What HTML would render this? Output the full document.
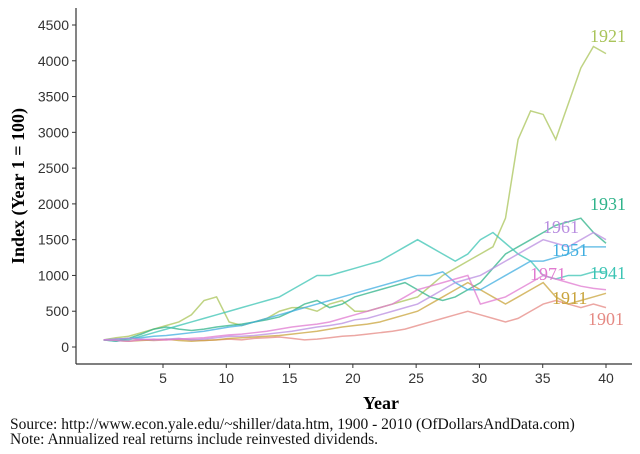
<!DOCTYPE html>
<html><head><meta charset="utf-8"><style>
body{margin:0;background:#fff}
svg{display:block}
.tk{font-family:"Liberation Sans",sans-serif;font-size:14px;fill:#333}
.lb{font-family:"Liberation Serif",serif;font-size:18px}
.ft{font-family:"Liberation Serif",serif;font-size:15.5px;fill:#111}
</style></head><body>
<svg id="chart" width="640" height="454">
<g id="grid"></g><g id="lines"></g><g id="labels"></g>
<text class="ft" x="10" y="429">Source:  http://www.econ.yale.edu/~shiller/data.htm, 1900 - 2010 (OfDollarsAndData.com)</text>
<text class="ft" x="10" y="444">Note:  Annualized real returns include reinvested dividends.</text>
<text x="363" y="409" style="font-family:'Liberation Serif',serif;font-weight:bold;font-size:18px">Year</text>
<text transform="translate(24,186) rotate(-90)" text-anchor="middle" style="font-family:'Liberation Serif',serif;font-weight:bold;font-size:18px">Index (Year 1 = 100)</text>
</svg>
<script>
const years=[0,1,2,3,4,5,6,7,8,9,10,11,12,13,14,15,16,17,18,19,20,21,22,23,24,25,26,27,28,29,30,31,32,33,34,35,36,37,38,39,40];
const s1901=[100,110,120,100,90,100,110,100,90,100,110,100,120,130,140,120,100,110,130,150,160,180,200,220,250,300,350,400,450,500,450,400,350,400,500,600,650,600,550,600,550];
const s1911=[100,90,80,90,100,110,90,80,90,100,120,130,140,150,160,180,200,220,250,280,300,320,350,400,450,500,600,700,800,900,800,700,600,700,800,900,700,600,650,700,750];
const s1921=[100,130,150,200,250,300,350,450,650,700,350,300,350,400,500,550,550,500,600,650,500,500,550,600,650,700,850,1000,1100,1200,1300,1400,1800,2900,3300,3250,2900,3400,3900,4200,4100];
const s1931=[100,80,120,180,250,280,250,230,250,280,300,320,350,380,420,500,600,650,550,600,700,750,800,850,900,800,700,650,700,800,900,1100,1300,1400,1500,1600,1700,1750,1800,1600,1450];
const s1941=[100,80,100,150,200,250,300,350,400,450,500,550,600,650,700,800,900,1000,1000,1050,1100,1150,1200,1300,1400,1500,1400,1300,1200,1300,1500,1600,1450,1300,1200,1000,950,1000,1000,1050,1050];
const s1951=[100,110,120,130,150,160,180,200,220,250,280,300,350,400,450,500,550,600,650,700,750,800,850,900,950,1000,1000,1050,900,800,800,900,1000,1100,1200,1200,1250,1300,1400,1400,1400];
const s1961=[100,110,120,110,100,110,120,100,110,130,150,150,160,180,200,220,250,280,300,330,380,400,450,500,550,600,700,800,900,950,1000,1100,1200,1300,1400,1500,1450,1400,1500,1600,1500];
const s1971=[100,90,80,100,110,100,110,120,130,150,170,180,200,220,250,280,300,320,350,400,450,500,550,600,700,800,850,900,950,1000,600,650,700,800,900,1000,950,900,850,820,800];
const yTicks=[0,500,1000,1500,2000,2500,3000,3500,4000,4500];
const xTicks=[5,10,15,20,25,30,35,40];
const seriesNames=["1901","1911","1921","1931","1941","1951","1961","1971"];
const NS="http://www.w3.org/2000/svg";
const ys=v=>347-v*(322/4500);
function mk(tag,a,p){const e=document.createElementNS(NS,tag);for(const k in a)e.setAttribute(k,a[k]);p.appendChild(e);return e;}
const g=document.getElementById('grid');
const ax=mk('line',{x1:76,y1:8,x2:76,y2:364,stroke:'#333','stroke-width':1.2},g);


const axx=mk('line',{x1:76,y1:364,x2:632,y2:364,stroke:'#333','stroke-width':1.2},g);


yTicks.forEach(v=>{mk('line',{x1:72,x2:76,y1:ys(v),y2:ys(v),stroke:'#333'},g);
const t=mk('text',{x:69,y:ys(v)+5,'text-anchor':'end',class:'tk'},g);t.textContent=v;

});
const xpos=v=>163+(v-5)*(606-163)/35;
xTicks.forEach(v=>{mk('line',{x1:xpos(v),x2:xpos(v),y1:364,y2:368,stroke:'#333'},g);
const t=mk('text',{x:xpos(v),y:383,'text-anchor':'middle',class:'tk'},g);t.textContent=v;

});
const xd=v=>xpos(0.3+v*(40-0.3)/40);
const data=[s1901,s1911,s1921,s1931,s1941,s1951,s1961,s1971];
const cols=["#e58a84","#c9a43c","#a9c45a","#2fb38a","#3cc4b4","#40aee0","#b98ee0","#e07ad0"];
const L=document.getElementById('lines');
data.forEach((s,i)=>{const p=mk('polyline',{points:s.map((v,j)=>xd(years[j])+','+ys(v)).join(' '),fill:'none',stroke:cols[i],'stroke-width':1.5,'stroke-opacity':0.75},L);

});
const lbl=[[588,325],[552,304],[590,42],[590,210],[590,279],[552,256],[543,233],[530,280]];
const LB=document.getElementById('labels');
lbl.forEach((p,i)=>{const t=mk('text',{x:p[0],y:p[1],class:'lb',fill:cols[i]},LB);t.textContent=seriesNames[i];

});
</script>
</body></html>
